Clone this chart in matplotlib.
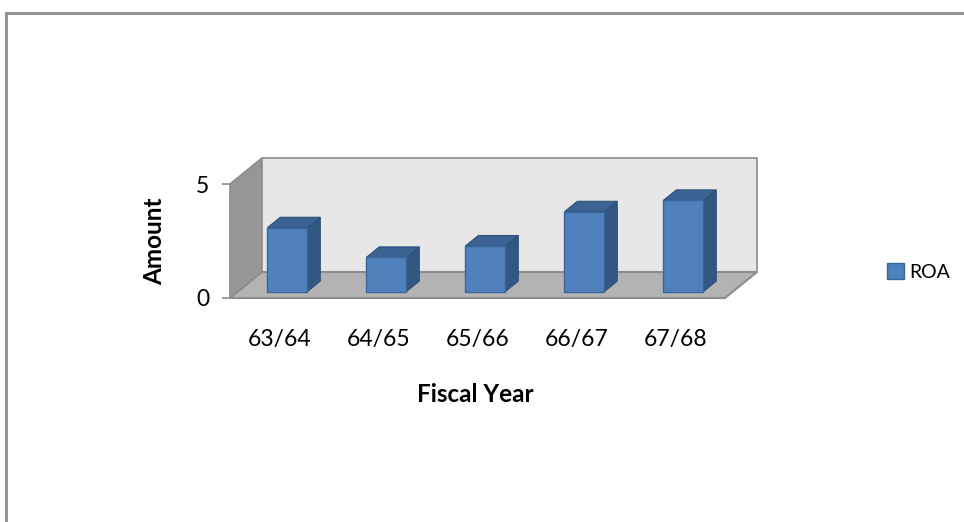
#3D-style column chart of ROA by fiscal year
import numpy as np
import matplotlib.pyplot as plt
from matplotlib.patches import Polygon, Rectangle

#Chart data
years = ["63/64", "64/65", "65/66", "66/67", "67/68"]
roa = [2.8, 1.5, 2.0, 3.5, 4.0]
y_ticks = [0, 5]

plt.rcParams['font.family'] = ['Lato', 'DejaVu Sans']

W, H = 964, 522
fig = plt.figure(figsize=(W/100, H/100), dpi=100)
ax = fig.add_axes([230/W, 1-298/H, 495/W, 114/H])
ax.set_xlim(-0.5, len(years)-0.5)
ax.set_ylim(y_ticks[0], y_ticks[-1])

#Depth of the box (data units)
DX = 0.323
DY = 1.14
x0, x1 = -0.5, len(years)-0.5
y0, y1 = y_ticks[0], y_ticks[-1]
edge = "#8c8c8c"

#Walls and floor
ax.add_patch(Polygon([(x0, y0), (x0, y1), (x0+DX, y1+DY), (x0+DX, y0+DY)],
                     fc="#979797", ec=edge, lw=1.2, clip_on=False, zorder=1))
ax.add_patch(Polygon([(x0+DX, y0+DY), (x1+DX, y0+DY), (x1+DX, y1+DY), (x0+DX, y1+DY)],
                     fc="#e7e7e7", ec=edge, lw=1.2, clip_on=False, zorder=1))
ax.add_patch(Polygon([(x0, y0), (x1, y0), (x1+DX, y0+DY), (x0+DX, y0+DY)],
                     fc="#b3b3b3", ec=edge, lw=1.5, clip_on=False, zorder=2))

#Columns: front faces via bar, then side and top faces
xs = np.arange(len(years))
bw = 0.404
front_off = 0.25
bar_depth = 0.40
by = front_off*DY
bars = ax.bar(xs + front_off*DX, roa, width=bw, bottom=by, color="#4f81bd",
              edgecolor="#3b669a", lw=1, label="ROA", zorder=5, clip_on=False)
ddx, ddy = bar_depth*DX, bar_depth*DY
for b, v in zip(bars, roa):
    l = b.get_x()
    r = l + b.get_width()
    t = by + v
    ax.add_patch(Polygon([(r, by), (r+ddx, by+ddy), (r+ddx, t+ddy), (r, t)],
                         fc="#335783", ec="#2f5079", lw=0.8, clip_on=False, zorder=4))
    ax.add_patch(Polygon([(l, t), (r, t), (r+ddx, t+ddy), (l+ddx, t+ddy)],
                         fc="#3b6293", ec="#2f5079", lw=0.8, clip_on=False, zorder=4))

#Axes styling
for s in ax.spines.values():
    s.set_visible(False)
ax.patch.set_visible(False)
ax.set_yticks(y_ticks)
ax.tick_params(axis='y', length=6, width=1.2, color=edge, labelsize=16.5, pad=9)
ax.set_xticks(xs)
ax.set_xticklabels(years)
ax.tick_params(axis='x', length=0, labelsize=16.5, pad=22)

ax.set_xlabel("Fiscal Year", fontsize=17.5, fontweight='bold')
ax.xaxis.set_label_coords((475-230)/495, (298-395)/114)
ax.xaxis.label.set_va('center')
ax.set_ylabel("Amount", fontsize=17.5, fontweight='bold')
ax.yaxis.set_label_coords((155-230)/495, 0.5)
ax.yaxis.label.set_va('center')

fig.legend(handles=[bars], labels=["ROA"], loc='center left',
           bbox_to_anchor=(887/W, 1-272/H), frameon=False, fontsize=14,
           handlelength=0.85, handleheight=0.85, handletextpad=0.3,
           borderpad=0, borderaxespad=0)

#Outer frame
fig.patches.append(Rectangle((6/W, -0.1), 1.2, 1.1 - 13/H, transform=fig.transFigure,
                             fill=False, ec="#959595", lw=2.2))

fig.savefig("out.png", dpi=100)
